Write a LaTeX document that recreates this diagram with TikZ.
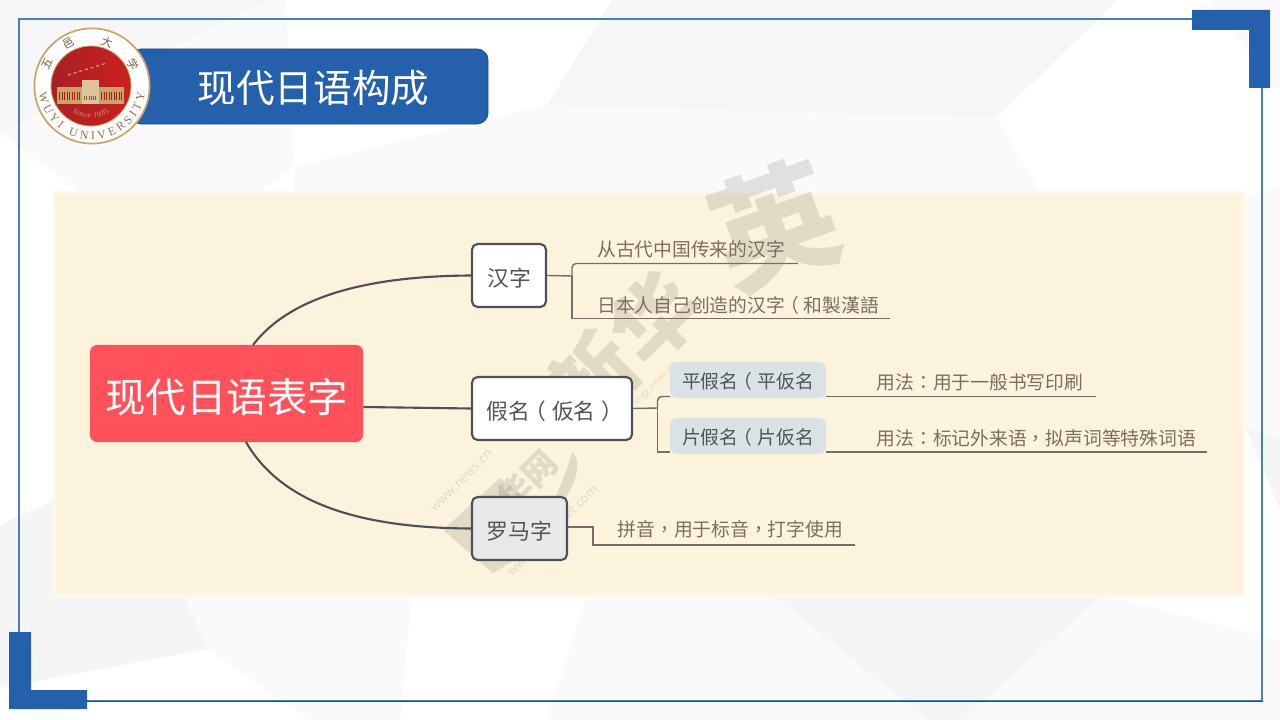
\documentclass[tikz,border=0pt]{standalone}
\usepackage{fontspec}
\setmainfont{Noto Sans CJK SC}
\newfontfamily\punctfont{Noto Sans CJK TC}
\newfontfamily\latinfont{Liberation Serif}
\usepackage{xcolor}
\usetikzlibrary{decorations.text}
\definecolor{frameblue}{HTML}{4A7EBF}
\definecolor{barblue}{HTML}{2460AC}
\definecolor{bardark}{HTML}{1C4C8C}
\definecolor{panel}{HTML}{FBF3DC}
\definecolor{panelsoft}{HTML}{FDF8EC}
\definecolor{rootred}{HTML}{FF5159}
\definecolor{wire}{HTML}{4A5258}
\definecolor{leafwire}{HTML}{6E6F69}
\definecolor{nodetext}{HTML}{50555A}
\definecolor{leaftext}{HTML}{7D6E5E}
\definecolor{tagfill}{HTML}{D9E2E5}
\definecolor{gold}{HTML}{C9A468}
\definecolor{sealred}{HTML}{A82024}
\definecolor{sealbright}{HTML}{CC2020}
\newcommand{\pu}[1]{{\punctfont #1}}
\newcommand{\lpar}{\kern-.25em（\kern.25em}
\newcommand{\rpar}{\kern.25em）\kern-.25em}
\newcommand{\lowered}[2]{\raisebox{-#1}[\height][\depth]{#2}}

\begin{document}
\begin{tikzpicture}[
  x=0.025cm,y=-0.025cm,
  topic/.style={draw=wire,line width=1.5pt,rounded corners=4pt,fill=white,text=nodetext,font=\fontsize{15.5}{18}\selectfont,minimum height=1.575cm,inner sep=0pt},
  tag/.style={fill=tagfill,rounded corners=5pt,text=nodetext,font=\fontsize{13.4}{16}\selectfont,minimum width=3.9cm,minimum height=0.9cm,inner sep=0pt},
  leaf/.style={text=leaftext,font=\fontsize{13.35}{16}\selectfont,anchor=west,inner sep=0pt},
  mainline/.style={draw=wire,line width=1.5pt},
  subline/.style={draw=leafwire,line width=1pt},
  facet/.style={fill=black,fill opacity=#1,draw=none},
  stamp/.style={text=black,text opacity=0.1,inner sep=0pt},
]
  \useasboundingbox (0,0) rectangle (1280,720);
  \fill[white] (0,0) rectangle (1280,720);

  % Background facets
  \fill[facet=.035] (0,0) -- (270,0) -- (0,133) -- cycle;
  \fill[facet=.018] (270,0) -- (286,0) -- (294,167) -- (260,192) -- (80,192) -- (0,133) -- cycle;
  \fill[facet=.035] (612,0) -- (547,105) -- (996,118) -- (1118,0) -- cycle;
  \fill[facet=.018] (294,167) -- (547,105) -- (996,118) -- (1045,200) -- (294,200) -- cycle;
  \fill[facet=.02] (1208,0) -- (1280,0) -- (1280,95) -- cycle;
  \fill[facet=.02] (1243,200) -- (1280,185) -- (1280,440) -- (1245,426) -- cycle;
  \fill[facet=.04] (1245,426) -- (1280,440) -- (1280,510) -- cycle;
  \fill[facet=.04] (0,525) -- (55,500) -- (55,590) -- (180,590) -- (208,649) -- (0,688) -- cycle;
  \fill[facet=.018] (180,590) -- (208,649) -- (310,720) -- (400,720) -- (412,590) -- cycle;
  \fill[facet=.018] (589,590) -- (547,720) -- (927,720) -- (767,590) -- cycle;
  \fill[facet=.04] (767,590) -- (1102,595) -- (963,720) -- (927,720) -- cycle;
  \fill[facet=.018] (1102,595) -- (963,720) -- (1280,720) -- (1280,640) -- cycle;

  % Frame and corners
  \draw[frameblue,line width=1.4pt] (19,19) rectangle (1262,701);
  \draw[bardark,line width=0.8pt] (87,701.5) -- (1262.5,701.5);
  \fill[barblue] (1192,10) -- (1270,10) -- (1270,88) -- (1249,88) -- (1249,30) -- (1192,30) -- cycle;
  \fill[barblue] (9,632) -- (31,632) -- (31,690) -- (87,690) -- (87,709) -- (9,709) -- cycle;

  % Panel
  \fill[panelsoft] (53,191) rectangle (1245,597);
  \fill[panel] (56,194) rectangle (1242,594);

  % Watermark
  \fill[facet=.1] (443,530) -- (500,478) -- (566,530) -- (493,573) -- cycle;
  \fill[facet=.1] (572,452) .. controls (590,470) and (560,510) .. (530,545) .. controls (552,505) and (565,480) .. (572,452) -- cycle;
  \node[stamp,rotate=45,font=\fontsize{60}{60}\selectfont\bfseries] (stampXin) at (592,378) {新};
  \node[stamp,rotate=45,font=\fontsize{60}{60}\selectfont\bfseries] (stampHua) at (655,318) {华};
  \node[stamp,rotate=20,font=\fontsize{88}{88}\selectfont\bfseries] (stampYing) at (775,225) {英};
  \node[stamp,rotate=45,font=\fontsize{24}{24}\selectfont\bfseries] (stampNet) at (515,492) {新华网};
  \node[stamp,rotate=45,font=\fontsize{9}{9}\selectfont] (stampUrlA) at (462,481) {www.news.cn};
  \node[stamp,rotate=45,font=\fontsize{9}{9}\selectfont] (stampUrlB) at (552,530) {www.xinhuanet.com};
  \node[stamp,rotate=45,font=\fontsize{6.5}{6.5}\selectfont] (stampUrlC) at (655,384) {xhgz.news.cn};

  % Title
  \node[fill=barblue,draw=bardark,line width=0.6pt,rounded corners=8pt,minimum width=8.95cm,minimum height=1.875cm,text=white,font=\fontsize{27.4}{30}\selectfont,inner sep=0pt] (title) at (309,86.5) {\hspace{0.225cm}\lowered{1pt}{现代日语构成}};

  % Seal
  \begin{scope}[shift={(92,86)},y=0.025cm]
    \node[circle,fill=white,draw=gold,line width=1.2pt,minimum size=2.88cm,inner sep=0pt] (seal) at (0,0) {};
    \node[circle,left color=sealred,right color=sealbright,draw=gold,line width=0.6pt,minimum size=2cm,inner sep=0pt] (sealcore) at (-1,0) {};
    \fill[gold] (-35,-1) rectangle (32,-18);
    \fill[gold!65!white] (-10,6) rectangle (7,-18);
    \draw[sealred,line width=5pt,dash pattern=on .6pt off 1.2pt] (-33,-10) -- (-12,-10);
    \draw[sealred,line width=5pt,dash pattern=on .6pt off 1.2pt] (9,-10) -- (30,-10);
    \draw[gold!60!black,line width=3pt,dash pattern=on .6pt off 1pt] (-8,-12) -- (5,-12);
    \draw[gold,line width=0.8pt,dash pattern=on 2.2pt off 2pt] (-24,11) -- (15,23);
    \node[rotate=64,text=gold!60!black,font=\fontsize{8}{8}\selectfont,inner sep=0pt] (sealA) at (-45,22) {五};
    \node[rotate=28,text=gold!60!black,font=\fontsize{8}{8}\selectfont,inner sep=0pt] (sealB) at (-23,43) {邑};
    \node[rotate=-19,text=gold!60!black,font=\fontsize{8}{8}\selectfont,inner sep=0pt] (sealC) at (15,44) {大};
    \node[rotate=-62,text=gold!60!black,font=\fontsize{8}{8}\selectfont,inner sep=0pt] (sealD) at (41,22) {学};
    \path[postaction={decorate,decoration={text along path,text align={fit to path},text={|\fontsize{8.4}{8.4}\latinfont\color{gold!70!black}|WUYI UNIVERSITY}}}]
      (188:53.5) arc[start angle=188,end angle=352,radius=53.5];
    \path[postaction={decorate,decoration={text along path,text align={fit to path},text={|\fontsize{5.2}{5.2}\latinfont\color{gold}|Since 1985}}}]
      (-1,0) ++(235:32) arc[start angle=235,end angle=305,radius=32];
  \end{scope}

  % Root
  \node[fill=rootred,rounded corners=5pt,minimum width=6.825cm,minimum height=2.425cm,text=white,font=\fontsize{28.8}{32}\selectfont,inner sep=0pt] (root) at (226.5,393.5) {\lowered{2.8pt}{现代日语表字}};

  % Topics
  \node[topic,minimum width=1.85cm] (hanzi) at (509,275.5) {\lowered{2pt}{汉字}};
  \node[topic,minimum width=4cm] (kana) at (552,408.5) {\lowered{2pt}{假名\lpar 仮名\rpar}};
  \node[topic,minimum width=2.375cm,fill=black!9] (romaji) at (519.5,528.5) {\lowered{2pt}{罗马字}};

  % Main branches
  \coordinate (rootTop) at (253,345);
  \coordinate (rootBottom) at (246,442);
  \draw[mainline] (rootTop) .. controls (295,290) and (385,276) .. (hanzi.west);
  \draw[mainline] (root.east |- 0,407) -- (kana.west);
  \draw[mainline] (rootBottom) .. controls (285,510) and (375,528) .. (romaji.west);

  % Hanzi leaves
  \coordinate (jctHanzi) at (572,276);
  \coordinate (endHanziA) at (798,263.5);
  \coordinate (endHanziB) at (890,318.5);
  \draw[subline] (hanzi.east) -- (jctHanzi);
  \draw[subline,rounded corners=3pt] (jctHanzi) |- (endHanziA);
  \draw[subline] (jctHanzi) |- (endHanziB);
  \node[leaf] (leafHanziA) at (597,249) {从古代中国传来的汉字};
  \node[leaf] (leafHanziB) at (597,305) {日本人自己创造的汉字\lpar 和製漢語};

  % Kana tags
  \node[tag] (tagHira) at (748,380) {\lowered{.7pt}{平假名\lpar 平仮名}};
  \node[tag] (tagKata) at (748,436) {\lowered{.7pt}{片假名\lpar 片仮名}};
  \coordinate (jctKana) at (657.5,408);
  \coordinate (tagHiraL) at (670,396.5);
  \coordinate (tagHiraR) at (826,396.5);
  \coordinate (endHira) at (1096,396.5);
  \coordinate (tagKataL) at (670,452);
  \coordinate (tagKataR) at (826,452);
  \coordinate (endKata) at (1207,452);
  \draw[subline] (kana.east) -- (jctKana);
  \draw[subline,rounded corners=3pt] (jctKana) |- (tagHiraL);
  \draw[subline] (jctKana) |- (tagKataL);
  \draw[subline] (tagHiraR) -- (endHira);
  \draw[subline] (tagKataR) -- (endKata);
  \node[leaf] (leafHira) at (876.5,382) {用法\pu{：}用于一般书写印刷};
  \node[leaf] (leafKata) at (876.5,438) {用法\pu{：}标记外来语\pu{，}拟声词等特殊词语};

  % Romaji leaf
  \coordinate (jctRomaji) at (593,527);
  \coordinate (endRomaji) at (855,545);
  \draw[subline] (romaji.east |- jctRomaji) -- (jctRomaji) |- (endRomaji);
  \node[leaf] (leafRomaji) at (617.5,529) {拼音\pu{，}用于标音\pu{，}打字使用};
\end{tikzpicture}
\end{document}
